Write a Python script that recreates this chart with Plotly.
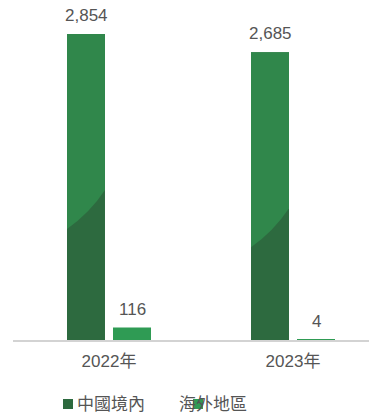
import plotly.graph_objects as go

# ---- data ----
categories = ["2022年", "2023年"]
series_names = ["中國境內", "海外地區"]
domestic = [2854, 2685]
overseas = [116, 4]

# ---- styles ----
DARK = "#2D6A3F"
LIGHT = "#30874B"
BRIGHT = "#2F9B54"
TXT = "#555555"
FONT = "Liberation Sans, Noto Sans CJK TC, sans-serif"

W, H = 369, 415
ML, MR, MT, MB = 13, 0, 20, 75
PW, PH = W - ML - MR, H - MT - MB
YMAX = 2985
XR = [-0.5217, 1.413]
BARGAP, GROUPGAP = 0.5, 0.174

slot = (1 - BARGAP) / 2
bw = slot * (1 - GROUPGAP)
offs = [-slot / 2, slot / 2]

xs = list(range(len(categories)))
fig = go.Figure()
fig.add_bar(x=xs, y=domestic, name=series_names[0], marker=dict(color=DARK, line=dict(width=0)))
fig.add_bar(x=xs, y=overseas, name=series_names[1], marker=dict(color=BRIGHT, line=dict(width=0)))

px_per_unit = PH / YMAX
dL = 195 / px_per_unit
dR = 156 / px_per_unit
dC = 179 / px_per_unit

shapes = []
annotations = []
for i, v in enumerate(domestic):
    xl = xs[i] + offs[0] - bw / 2
    xr = xs[i] + offs[0] + bw / 2
    cx = xl + 0.6 * (xr - xl)
    path = (f"M {xl},{v} L {xr},{v} L {xr},{v - dR} "
            f"Q {cx},{v - dC} {xl},{v - dL} Z")
    shapes.append(dict(type="path", path=path, xref="x", yref="y",
                       fillcolor=LIGHT, line=dict(width=0), layer="above"))

for vals, off in [(domestic, offs[0]), (overseas, offs[1])]:
    for i, v in enumerate(vals):
        annotations.append(dict(x=xs[i] + off, y=v, xref="x", yref="y",
                                text=f"{v:,}", showarrow=False, yanchor="bottom",
                                yshift=7, font=dict(size=17, color=TXT, family=FONT)))

def px2paper_x(px):
    return (px - ML) / PW

def px2paper_y(py):
    return (H - MB - py) / PH

# manual legend
legend_items = [
    (series_names[0], DARK, 63, 75),
    (series_names[1], BRIGHT, 193, 177),
]
for name, col, mx, tx in legend_items:
    annotations.append(dict(x=px2paper_x(tx), y=px2paper_y(404), xref="paper", yref="paper",
                            text=name, showarrow=False, xanchor="left", yanchor="middle",
                            font=dict(size=17, color=TXT, family=FONT)))
    shapes.append(dict(type="rect", xref="paper", yref="paper",
                       x0=px2paper_x(mx), x1=px2paper_x(mx + 10),
                       y0=px2paper_y(409), y1=px2paper_y(399),
                       fillcolor=col, line=dict(width=0), layer="above"))

fig.update_layout(
    width=W, height=H,
    margin=dict(l=ML, r=MR, t=MT, b=MB),
    barmode="group", bargap=BARGAP, bargroupgap=GROUPGAP,
    plot_bgcolor="white", paper_bgcolor="white",
    showlegend=False,
    shapes=shapes, annotations=annotations,
    font=dict(family=FONT, color=TXT),
)
fig.update_xaxes(range=XR, tickvals=xs, ticktext=categories, showgrid=False,
                 zeroline=False, showline=True, linecolor="#d3d3d3", linewidth=2,
                 layer="above traces", ticks="", ticklabelstandoff=5,
                 tickfont=dict(size=17, color=TXT, family=FONT))
fig.update_yaxes(range=[0, YMAX], visible=False, showgrid=False, zeroline=False)

fig.write_html("out.html")
